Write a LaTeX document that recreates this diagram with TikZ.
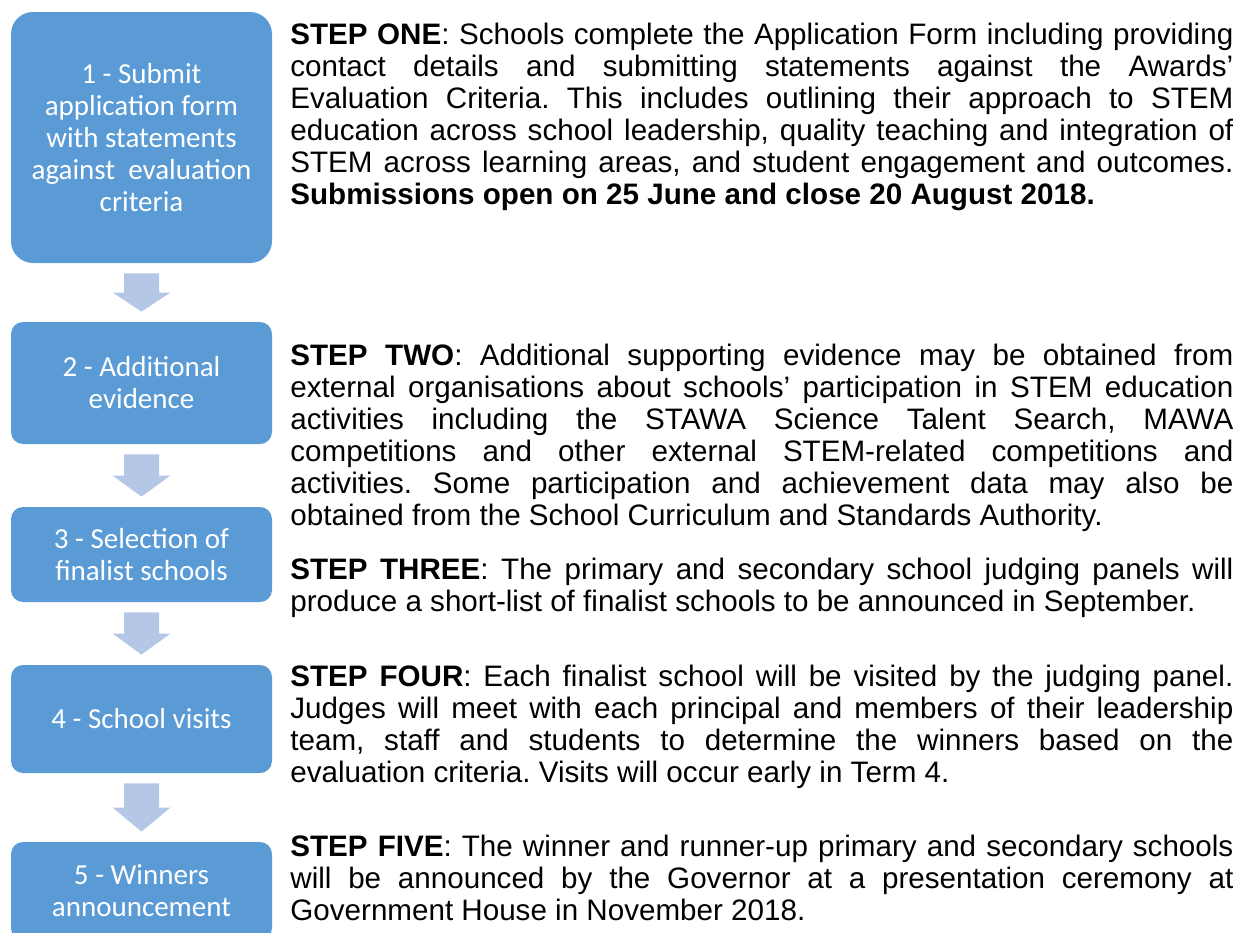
\documentclass[tikz,border=0pt]{standalone}
\usepackage{fontspec}
\setmainfont{Liberation Sans}
\newfontfamily\boxfont{Carlito}
\usetikzlibrary{calc}
\definecolor{boxblue}{RGB}{91,155,213}
\definecolor{arrowblue}{RGB}{180,199,231}
\hyphenpenalty=10000
\tolerance=10000
\frenchspacing

\begin{document}
\begin{tikzpicture}
      [%%%%%%%%%%%%%%%%%%%%%%%%%%%%%%
      x=0.5pt,y=-0.5pt,
      stepbox/.style={rectangle,fill=boxblue,draw=none,rounded corners=6pt,
        minimum width=130.5pt,inner sep=0pt,text=white,align=center,
        font=\boxfont\fontsize{14.5}{16}\selectfont},
      steptext/.style={anchor=north west,inner sep=0pt,text width=471.5pt,
        align=justify,font=\fontsize{14.8}{16}\selectfont},
      flowarrow/.style={fill=arrowblue,draw=none,
        to path={let \p1=(\tikztostart.south), \p2=(\tikztotarget.north),
          \n1={(\y1-\y2-10pt)/2} in
          (\x1-8.75pt,\y1-5pt) -- (\x1+8.75pt,\y1-5pt) -- (\x1+8.75pt,\y1-5pt-\n1)
          -- (\x1+14.5pt,\y1-5pt-\n1) -- (\x1,\y2+5pt) -- (\x1-14.5pt,\y1-5pt-\n1)
          -- (\x1-8.75pt,\y1-5pt-\n1) -- cycle}},
      ]%%%%%%%%%%%%%%%%%%%%%%%%%%%%%%

      \useasboundingbox (0,0) rectangle (1244,933);

      \node[stepbox,minimum height=125.5pt,rounded corners=11pt] (b1) at (141.5,137.5)
        {1 - Submit\\application form\\with statements\\against\ \ evaluation\\criteria};
      \node[stepbox,minimum height=61pt] (b2) at (141.5,383) {2 - Additional\\evidence};
      \node[stepbox,minimum height=47.5pt] (b3) at (141.5,554.5) {3 - Selection of\\finalist schools};
      \node[stepbox,minimum height=54pt] (b4) at (141.5,719) {4 - School visits};
      \node[stepbox,minimum height=49pt] (b5) at (141.5,891) {5 - Winners\\announcement};

      \foreach \a/\b in {b1/b2,b2/b3,b3/b4,b4/b5}
        \path[flowarrow] (\a) to (\b);

      \node[steptext] (s1) at (290,23) {\textbf{STEP ONE}: Schools complete the Application Form including providing\linebreak
        contact details and submitting statements against the Awards’\linebreak
        Evaluation Criteria. This includes outlining their approach to STEM\linebreak
        education across school leadership, quality teaching and integration of\linebreak
        STEM across learning areas, and student engagement and outcomes.\linebreak
        \textbf{Submissions open on 25 June and close 20 August 2018.}};
      \node[steptext] (s2) at (290,344) {\textbf{STEP TWO}: Additional supporting evidence may be obtained from\linebreak
        external organisations about schools’ participation in STEM education\linebreak
        activities including the STAWA Science Talent Search, MAWA\linebreak
        competitions and other external STEM-related competitions and\linebreak
        activities. Some participation and achievement data may also be\linebreak
        obtained from the School Curriculum and Standards Authority.};
      \node[steptext] (s3) at (290,558) {\textbf{STEP THREE}: The primary and secondary school judging panels will\linebreak
        produce a short-list of finalist schools to be announced in September.};
      \node[steptext] (s4) at (290,665) {\textbf{STEP FOUR}: Each finalist school will be visited by the judging panel.\linebreak
        Judges will meet with each principal and members of their leadership\linebreak
        team, staff and students to determine the winners based on the\linebreak
        evaluation criteria. Visits will occur early in Term 4.};
      \node[steptext] (s5) at (290,835) {\textbf{STEP FIVE}: The winner and runner-up primary and secondary schools\linebreak
        will be announced by the Governor at a presentation ceremony at\linebreak
        Government House in November 2018.};
\end{tikzpicture}
\end{document}
